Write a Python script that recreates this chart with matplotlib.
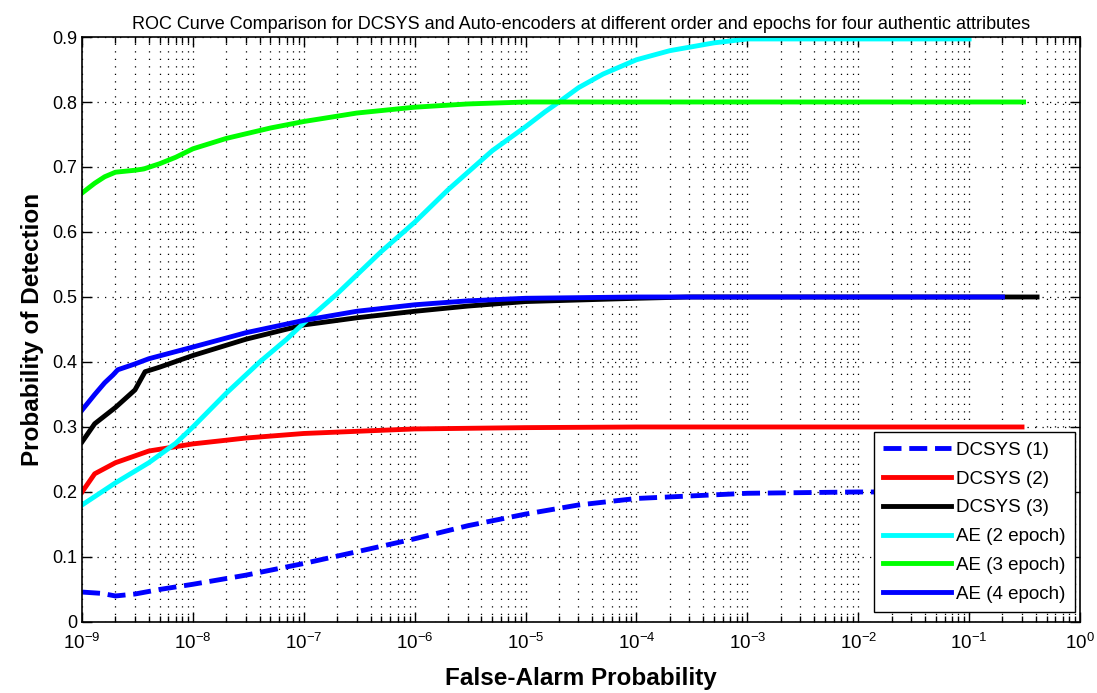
import matplotlib
matplotlib.use("Agg")
import matplotlib.pyplot as plt
from matplotlib import font_manager
from matplotlib.ticker import LogLocator, NullFormatter

plt.rcParams['font.family'] = ['Liberation Sans', 'DejaVu Sans']
plt.rcParams['mathtext.fontset'] = 'custom'
plt.rcParams['mathtext.rm'] = 'Liberation Sans'
plt.rcParams['mathtext.it'] = 'Liberation Sans'

# curves (false alarm prob, detection prob)
fa_dcsys1 = [1e-9, 1.5e-9, 2e-9, 3e-9, 5e-9, 1e-8, 3e-8, 1e-7, 3e-7, 1e-6, 3e-6, 1e-5, 3e-5, 1e-4, 1e-3, 1e-2, 0.3]
pd_dcsys1 = [0.046, 0.044, 0.040, 0.043, 0.050, 0.058, 0.072, 0.090, 0.108, 0.128, 0.148, 0.166, 0.180, 0.190, 0.198, 0.200, 0.200]

fa_dcsys2 = [1e-9, 1.3e-9, 2e-9, 4e-9, 1e-8, 3e-8, 1e-7, 1e-6, 1e-5, 1e-4, 0.3]
pd_dcsys2 = [0.200, 0.228, 0.245, 0.263, 0.274, 0.283, 0.290, 0.297, 0.299, 0.300, 0.300]

fa_dcsys3 = [1e-9, 1.3e-9, 2e-9, 3e-9, 3.7e-9, 5e-9, 1e-8, 3e-8, 1e-7, 3e-7, 1e-6, 3e-6, 1e-5, 1e-4, 3e-4, 0.41]
pd_dcsys3 = [0.277, 0.305, 0.330, 0.357, 0.385, 0.392, 0.410, 0.435, 0.457, 0.468, 0.478, 0.486, 0.493, 0.498, 0.500, 0.500]

fa_ae2 = [1e-9, 2e-9, 4e-9, 7e-9, 1e-8, 2e-8, 4e-8, 7e-8, 1e-7, 2e-7, 5e-7, 1e-6, 2e-6, 5e-6, 1e-5,
          1.5e-5, 2e-5, 3e-5, 5e-5, 1e-4, 2e-4, 5e-4, 1e-3, 1e-1]
pd_ae2 = [0.180, 0.214, 0.245, 0.275, 0.300, 0.352, 0.400, 0.435, 0.460, 0.505, 0.570, 0.615, 0.665, 0.725, 0.762,
          0.785, 0.800, 0.822, 0.843, 0.865, 0.879, 0.891, 0.897, 0.897]

fa_ae3 = [1e-9, 1.3e-9, 1.6e-9, 2e-9, 3e-9, 3.6e-9, 5e-9, 7e-9, 1e-8, 2e-8, 5e-8, 1e-7, 3e-7, 1e-6, 3e-6, 1e-5, 1e-4, 0.31]
pd_ae3 = [0.660, 0.675, 0.685, 0.692, 0.695, 0.697, 0.705, 0.715, 0.728, 0.744, 0.760, 0.770, 0.783, 0.792, 0.797, 0.800, 0.800, 0.800]

fa_ae4 = [1e-9, 1.3e-9, 1.6e-9, 1.9e-9, 2.1e-9, 3e-9, 4e-9, 1e-8, 3e-8, 1e-7, 3e-7, 1e-6, 3e-6, 1e-5, 1e-4, 0.2]
pd_ae4 = [0.326, 0.350, 0.368, 0.380, 0.388, 0.397, 0.405, 0.423, 0.445, 0.464, 0.478, 0.488, 0.494, 0.498, 0.500, 0.500]

yticks = [0, 0.1, 0.2, 0.3, 0.4, 0.5, 0.6, 0.7, 0.8, 0.9]
ylabels = ['0', '0.1', '0.2', '0.3', '0.4', '0.5', '0.6', '0.7', '0.8', '0.9']
xticks = [10.0**k for k in range(-9, 1)]
xlabels = [r'$10^{%d}$' % k for k in range(-9, 1)]

# narrow font for the title if there is one
try:
    font_manager.findfont('Liberation Sans Narrow', fallback_to_default=False)
    title_fam, title_size = ['Liberation Sans Narrow', 'Liberation Sans'], 15
except Exception:
    title_fam, title_size = ['Liberation Sans', 'DejaVu Sans'], 13

fig = plt.figure(figsize=(10.97, 6.93), dpi=100)
ax = fig.add_axes([0.0748, 0.1025, 0.9097, 0.8441])

lw = 3.5
ax.plot(fa_dcsys1, pd_dcsys1, '--', color='#0000ff', lw=lw, label='DCSYS (1)')
ax.plot(fa_dcsys2, pd_dcsys2, color='#ff0000', lw=lw, label='DCSYS (2)')
ax.plot(fa_dcsys3, pd_dcsys3, color='#000000', lw=lw, label='DCSYS (3)')
ax.plot(fa_ae2, pd_ae2, color='#00ffff', lw=lw, label='AE (2 epoch)')
ax.plot(fa_ae3, pd_ae3, color='#00ff00', lw=lw, label='AE (3 epoch)')
ax.plot(fa_ae4, pd_ae4, color='#0000ff', lw=lw, label='AE (4 epoch)')

ax.set_xscale('log')
ax.set_xlim(1e-9, 1)
ax.set_ylim(0, 0.9)
ax.set_xticks(xticks)
ax.set_xticklabels(xlabels, fontsize=13.5)
ax.xaxis.set_minor_locator(LogLocator(base=10, subs=range(2, 10), numticks=20))
ax.xaxis.set_minor_formatter(NullFormatter())
ax.set_yticks(yticks)
ax.set_yticklabels(ylabels, fontsize=13)

ax.tick_params(which='both', direction='in', top=True, right=True)
ax.tick_params(which='major', length=7, width=1)
ax.tick_params(which='minor', length=4, width=1)
ax.tick_params(axis='x', pad=8)

dots = (0, (1, 5))
ax.grid(True, which='major', axis='both', linestyle=dots, color='black', lw=0.9)
ax.grid(True, which='minor', axis='x', linestyle=dots, color='black', lw=0.9)
for s in ax.spines.values():
    s.set_linewidth(1.2)

ax.set_xlabel('False-Alarm Probability', fontsize=17.5, fontweight='bold', labelpad=10)
ax.set_ylabel('Probability of Detection', fontsize=17.5, fontweight='bold', labelpad=6)
ax.set_title('ROC Curve Comparison for DCSYS and Auto-encoders at different order and epochs for four authentic attributes',
             fontsize=title_size, family=title_fam, pad=6)

leg = ax.legend(loc='lower right', bbox_to_anchor=(0.995, 0.017), fontsize=13.5, handlelength=3.6,
                labelspacing=0.62, fancybox=False, framealpha=1, edgecolor='black',
                borderpad=0.5, handletextpad=0.3, borderaxespad=0)
leg.get_frame().set_linewidth(1)

fig.savefig('out.png', dpi=100)
